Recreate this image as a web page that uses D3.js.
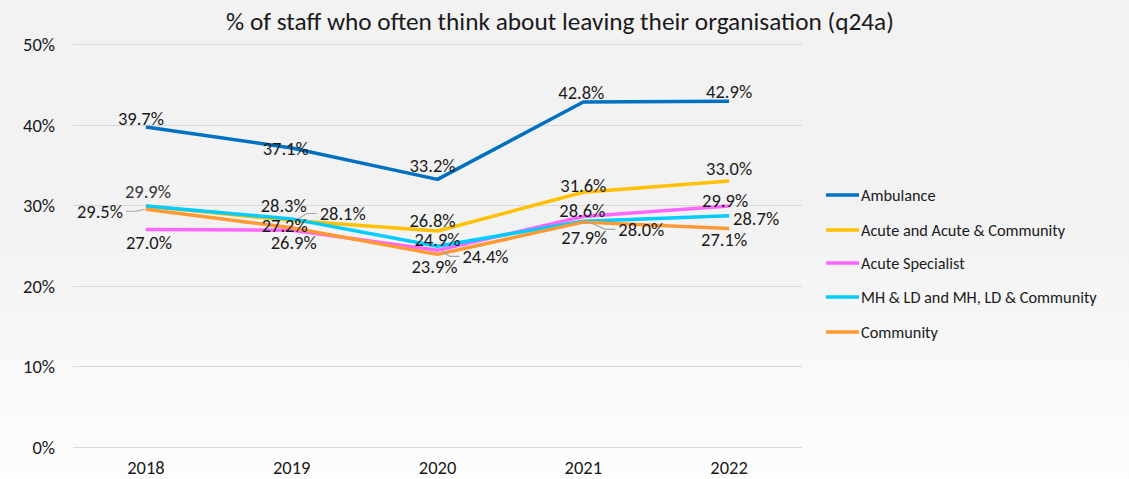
<!DOCTYPE html>
<html>
<head>
<meta charset="utf-8">
<script src="https://cdn.jsdelivr.net/npm/d3@7"></script>
<style>
  html, body { margin: 0; padding: 0; background: #fff; }
  svg { display: block; }
  text { font-family: Carlito, Calibri, Lato, "Open Sans", sans-serif; fill: #1a1a1a; }
</style>
</head>
<body>
<svg id="chart" width="1129" height="479"></svg>
<script>
// ---------- data ----------
const years = ["2018", "2019", "2020", "2021", "2022"];
const seriesNames = [
  "Ambulance",
  "Acute and Acute & Community",
  "Acute Specialist",
  "MH & LD and MH, LD & Community",
  "Community"
];
const ambulance = [39.7, 37.1, 33.2, 42.8, 42.9];
const acute = [29.9, 28.1, 26.8, 31.6, 33.0];
const acuteSpecialist = [27.0, 26.9, 24.4, 28.6, 29.9];
const mhld = [29.9, 28.3, 24.9, 28.0, 28.7];
const community = [29.5, 27.2, 23.9, 27.9, 27.1];
const yTicks = [0, 10, 20, 30, 40, 50];
const title = "% of staff who often think about leaving their organisation (q24a)";

// ---------- styling / layout ----------
const colors = ["#0070C0", "#FFC000", "#FF66FF", "#00CCFF", "#FF9933"];
// label placement per series / year: [dx, dy] of label centre from point, optional leader flag, optional opacity
const labelLayout = [
  [[-5, -8], [-6, 1], [-5, -14], [-2, -10], [0, -10]],
  [[2, -14, null, 0.4], [51, -7, "L"], [-5, -10], [0, -7], [0, -12]],
  [[3, 13], [2, 12], [48, 6, "L"], [-1, -6], [-4, -5]],
  [[2, -14, null, 0.75], [-8, -13], [0, -7], [58, 8, "L"], [27, 3]],
  [[-46, 2, "L"], [-7, -2], [-3, 12], [1, 15], [-5, 11]]
];

const values = [ambulance, acute, acuteSpecialist, mhld, community];
const W = 1129, H = 479;
const svg = d3.select("#chart");

// background gradient
const defs = svg.append("defs");
const grad = defs.append("linearGradient").attr("id", "bg").attr("x1", 0).attr("y1", 0).attr("x2", 0).attr("y2", 1);
grad.append("stop").attr("offset", "0%").attr("stop-color", "#f2f2f2");
grad.append("stop").attr("offset", "45%").attr("stop-color", "#f2f2f2");
grad.append("stop").attr("offset", "100%").attr("stop-color", "#fdfdfd");
svg.append("rect").attr("width", W).attr("height", H).attr("fill", "url(#bg)");

const x = d3.scaleBand().domain(years).range([73, 802]);
const y = d3.scaleLinear().domain([0, 50]).range([447, 44]);

// gridlines
svg.append("g").selectAll("line").data(yTicks).join("line")
  .attr("x1", 73).attr("x2", 802)
  .attr("y1", d => Math.round(y(d)) + 0.5).attr("y2", d => Math.round(y(d)) + 0.5)
  .attr("stroke", "#d9d9d9").attr("stroke-width", 1);

// y axis labels
const yAxis = d3.axisLeft(y).tickValues(yTicks).tickFormat(d => d + "%").tickSize(0).tickPadding(0);
const gy = svg.append("g").attr("transform", "translate(55,0)").call(yAxis);
gy.select(".domain").remove();
gy.selectAll("text").attr("font-size", 18.5).attr("fill", "#1a1a1a")
  .attr("font-family", "Carlito, Calibri, Lato, sans-serif").attr("dy", "0.35em");

// x axis labels
const xAxis = d3.axisBottom(x).tickSize(0).tickPadding(0);
const gx = svg.append("g").attr("transform", "translate(0,461)").call(xAxis);
gx.select(".domain").remove();
gx.selectAll("text").attr("font-size", 18.5).attr("fill", "#1a1a1a")
  .attr("font-family", "Carlito, Calibri, Lato, sans-serif").attr("dy", "0.71em");

// title
svg.append("text").attr("x", 560).attr("y", 30).attr("text-anchor", "middle")
  .attr("font-size", 25.3).text(title);

const cx = yr => x(yr) + x.bandwidth() / 2;
const line = d3.line().x((d, i) => cx(years[i])).y(d => y(d));

// series lines
svg.append("g").selectAll("path").data(values).join("path")
  .attr("d", d => line(d))
  .attr("fill", "none")
  .attr("stroke", (d, i) => colors[i])
  .attr("stroke-width", 3.5)
  .attr("stroke-linejoin", "round")
  .attr("stroke-linecap", "butt");

// data labels
const fmt = d3.format(".1f");
const labG = svg.append("g");
values.forEach((arr, si) => {
  arr.forEach((v, i) => {
    const px = cx(years[i]), py = y(v);
    const [dx, dy, leader, op] = labelLayout[si][i];
    const tx = px + dx, ty = py + dy;
    const t = labG.append("text")
      .attr("x", tx).attr("y", ty).attr("dy", "0.35em")
      .attr("text-anchor", "middle").attr("font-size", 18.5)
      .attr("fill-opacity", op == null ? 1 : op)
      .text(fmt(v) + "%");
    if (leader) {
      const w = t.node().getComputedTextLength();
      const edge = dx > 0 ? tx - w / 2 - 3 : tx + w / 2 + 3;
      const mid = dx > 0 ? edge - 10 : edge + 10;
      labG.insert("path", ":first-child")
        .attr("d", `M${px + (dx > 0 ? 4 : -1)},${py}L${mid},${ty}L${edge},${ty}`)
        .attr("fill", "none").attr("stroke", "#a6a6a6").attr("stroke-width", 1.2);
    }
  });
});

// legend
const legY = [195, 230, 263, 297, 332];
const leg = svg.append("g");
seriesNames.forEach((name, i) => {
  leg.append("line").attr("x1", 826).attr("x2", 859)
    .attr("y1", legY[i]).attr("y2", legY[i])
    .attr("stroke", colors[i]).attr("stroke-width", 3.5);
  leg.append("text").attr("x", 861).attr("y", legY[i]).attr("dy", "0.35em")
    .attr("font-size", 16.3).text(name);
});
</script>
</body>
</html>
